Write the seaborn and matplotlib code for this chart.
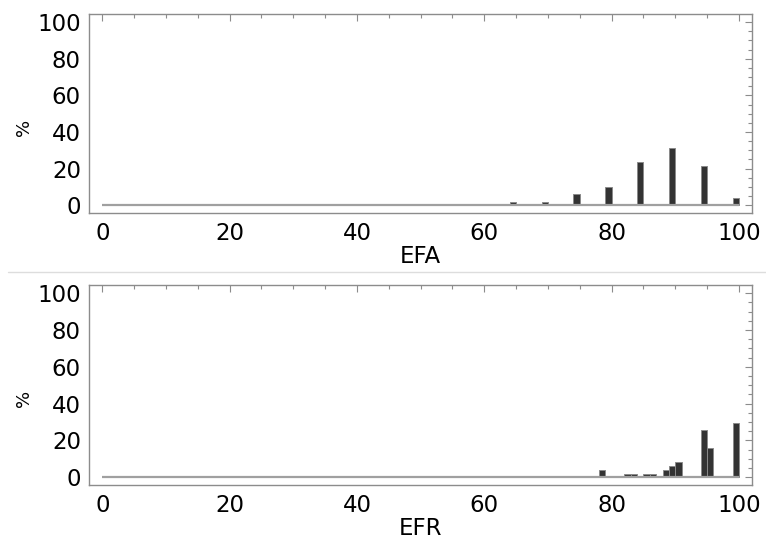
import numpy as np
import pandas as pd
import matplotlib
matplotlib.use("Agg")
import matplotlib.pyplot as plt
from matplotlib.lines import Line2D
from matplotlib.ticker import MultipleLocator
import seaborn as sns

# EFA histogram: bin left edges and percentages
efa_bins = [64, 69, 74, 79, 84, 89, 94, 99]
efa_pct = [2, 2, 6, 10, 23.4, 31.4, 21.5, 3.9]

# EFR histogram
efr_bins = [78, 82, 83, 85, 86, 88, 89, 90, 94, 95, 99]
efr_pct = [4, 2, 2, 2, 2, 4, 6, 8, 25.6, 15.9, 29.3]

sns.set_style("white")
plt.rcParams["font.family"] = ["DejaVu Sans"]
plt.rcParams["text.color"] = "black"
plt.rcParams["axes.labelcolor"] = "black"
plt.rcParams["xtick.labelcolor"] = "black"
plt.rcParams["ytick.labelcolor"] = "black"

fig = plt.figure(figsize=(7.66, 5.45), dpi=100)
ax1 = fig.add_axes([0.1165, 0.6086, 0.8652, 0.3657])
ax2 = fig.add_axes([0.1165, 0.1095, 0.8652, 0.3675])

frame_col = "#8c8c8c"

for ax, lefts, pct, name in [(ax1, efa_bins, efa_pct, "EFA"), (ax2, efr_bins, efr_pct, "EFR")]:
    df = pd.DataFrame({"x": np.array(lefts) + 0.5, "pct": pct})
    sns.histplot(data=df, x="x", weights="pct", binwidth=1, binrange=(0, 100), ax=ax,
                 color="#333333", edgecolor="#8a8a8a", linewidth=0.7, alpha=1)
    ax.hlines(0, 0, 100, color="#a0a0a0", lw=1.6, zorder=1)
    ax.set_xlim(-2.05, 102.05)
    ax.set_ylim(-4.4, 104.4)
    ax.xaxis.set_major_locator(MultipleLocator(20))
    ax.xaxis.set_minor_locator(MultipleLocator(5))
    ax.yaxis.set_major_locator(MultipleLocator(20))
    ax.yaxis.set_minor_locator(MultipleLocator(5))
    ax.tick_params(which="both", direction="in", top=True, right=True,
                   color=frame_col, width=0.8)
    ax.tick_params(which="major", length=5, labelsize=16.5, pad=6)
    ax.tick_params(which="minor", length=3)
    for s in ax.spines.values():
        s.set_color(frame_col)
        s.set_linewidth(1.0)
    ax.set_xlabel(name, fontsize=16.5, labelpad=0)
    ax.set_ylabel("%", fontsize=13)
    ax.yaxis.set_label_coords(-0.085, 0.432)

# light divider between the two panels
fig.add_artist(Line2D([8 / 766, 1.0], [1 - 271.7 / 545] * 2, color="#dddddd", lw=1))

fig.savefig("out.png", dpi=100)
